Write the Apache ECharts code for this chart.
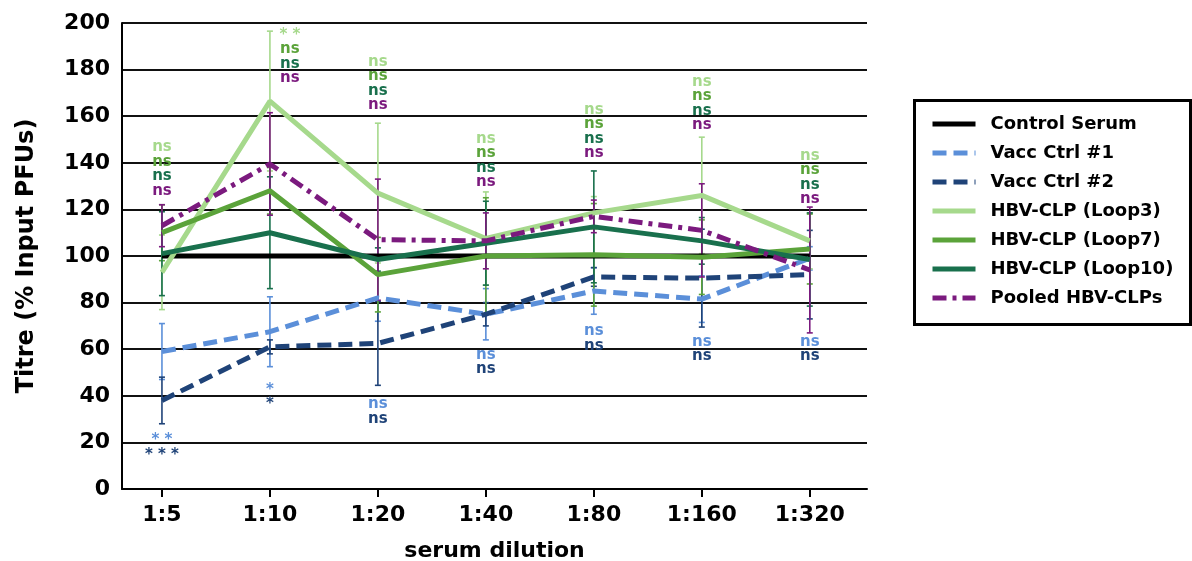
<!DOCTYPE html>
<html>
<head>
<meta charset="utf-8">
<script src="https://cdn.jsdelivr.net/npm/echarts@6/dist/echarts.min.js"></script>
<style>
  html, body { margin: 0; padding: 0; background: #fff; }
  #chart { width: 1192px; height: 561px; }
</style>
</head>
<body>
<div id="chart"></div>
<script>
const categories = ["1:5", "1:10", "1:20", "1:40", "1:80", "1:160", "1:320"];
const yTicks = [0, 20, 40, 60, 80, 100, 120, 140, 160, 180, 200];

const control = [100, 100, 100, 100, 100, 100, 100];
const vacc1 = [59, 67.5, 82, 75, 85, 81.5, 99];
const vacc2 = [38, 61, 62.5, 75, 91, 90.5, 92];
const loop3 = [93, 166.5, 127, 107.5, 118.5, 126, 106.5];
const loop7 = [110, 128, 92, 100, 100.5, 99.5, 103];
const loop10 = [101, 110, 98.5, 105.5, 112.5, 106.5, 98.5];
const pooled = [113, 139.5, 107, 106.5, 117, 111, 94];

// half-width of the error bars
const vacc1Err = [12, 15, 10, 11, 10, 10, 5];
const vacc2Err = [10, 3, 18, 5, 4, 21, 19];
const loop3Err = [16, 30, 30, 20, 7, 25, 12];
const loop7Err = [12, 10, 16, 25, 22, 16, 15];
const loop10Err = [18, 24, 5, 18, 24, 10, 20];
const pooledErr = [9, 22, 26, 12, 7, 20, 27];

// significance marks: upper stack = Loop3, Loop7, Loop10, Pooled; lower = Vacc #1, Vacc #2
const sigUpper = [
  ["ns", "ns", "ns", "ns"],
  ["* *", "ns", "ns", "ns"],
  ["ns", "ns", "ns", "ns"],
  ["ns", "ns", "ns", "ns"],
  ["ns", "ns", "ns", "ns"],
  ["ns", "ns", "ns", "ns"],
  ["ns", "ns", "ns", "ns"]
];
const sigLower = [
  ["* *", "* * *"],
  ["*", "*"],
  ["ns", "ns"],
  ["ns", "ns"],
  ["ns", "ns"],
  ["ns", "ns"],
  ["ns", "ns"]
];
const sigUpperAt = [124.7, 173, 161.3, 128.2, 140.7, 152.7, 120.9];
const sigLowerAt = [24.3, 45.8, 39.6, 60.8, 71, 66.5, 66.5];

const C = {
  control: "#000000",
  vacc1: "#5b8fd9",
  vacc2: "#1f4378",
  loop3: "#a6d98c",
  loop7: "#5ba33a",
  loop10: "#19704d",
  pooled: "#7b1a7e"
};
const FONT = "DejaVu Sans";

const pts = vals => vals.map((v, i) => [i, v]);

function lineSeries(name, vals, color, type) {
  return {
    name: name,
    type: "line",
    data: pts(vals),
    color: color,
    symbol: "none",
    z: 3,
    lineStyle: { width: 5, color: color, type: type || "solid" }
  };
}

function errSeries(vals, errs, color) {
  return {
    type: "custom",
    silent: true,
    z: 2,
    data: vals.map((v, i) => [i, v, errs[i]]),
    renderItem: (params, api) => {
      const x = api.value(0), y = api.value(1), e = api.value(2);
      const top = api.coord([x, y + e]);
      const bot = api.coord([x, y - e]);
      const st = { stroke: color, lineWidth: 1.6 };
      return {
        type: "group",
        children: [
          { type: "line", shape: { x1: top[0], y1: top[1], x2: bot[0], y2: bot[1] }, style: st },
          { type: "line", shape: { x1: top[0] - 3, y1: top[1], x2: top[0] + 3, y2: top[1] }, style: st },
          { type: "line", shape: { x1: bot[0] - 3, y1: bot[1], x2: bot[0] + 3, y2: bot[1] }, style: st }
        ]
      };
    }
  };
}

const rich = {};
[["a", C.loop3], ["b", C.loop7], ["c", C.loop10], ["d", C.pooled], ["e", C.vacc1], ["f", C.vacc2]].forEach(r => {
  rich[r[0]] = { color: r[1], fontFamily: FONT, fontWeight: "bold", fontSize: 15, lineHeight: 14.5 };
});

function sigSeries(at, texts, keys, position) {
  return {
    type: "scatter",
    silent: true,
    symbolSize: 1,
    itemStyle: { color: "rgba(0,0,0,0)" },
    z: 4,
    data: at.map((v, i) => ({
      value: [i, v],
      label: {
        show: true,
        opacity: 1,
        position: position,
        distance: 0,
        offset: i === 1 && position === "top" ? [20, 0] : [0, 0],
        formatter: texts[i].map((t, k) => "{" + keys[k] + "|" + t + "}").join("\n"),
        rich: rich
      }
    }))
  };
}

const option = {
  animation: false,
  backgroundColor: "#ffffff",
  grid: { left: 122, right: 325, top: 23, bottom: 72, outerBoundsMode: "none" },
  xAxis: {
    type: "value",
    min: -0.37,
    max: 6.53,
    name: "serum dilution",
    nameLocation: "middle",
    nameGap: 51,
    nameTextStyle: { fontFamily: FONT, fontWeight: "bold", fontSize: 22, color: "#000" },
    splitLine: { show: false },
    axisLine: { lineStyle: { color: "#000", width: 2 } },
    axisTick: {
      show: true,
      length: 8,
      inside: false,
      customValues: categories.map((c, i) => i),
      lineStyle: { color: "#000", width: 2 }
    },
    axisLabel: {
      customValues: categories.map((c, i) => i),
      formatter: v => categories[Math.round(v)],
      margin: 15,
      fontFamily: FONT,
      fontWeight: "bold",
      fontSize: 22,
      color: "#000"
    }
  },
  yAxis: {
    type: "value",
    min: yTicks[0],
    max: yTicks[yTicks.length - 1],
    interval: 20,
    name: "Titre (% Input PFUs)",
    nameLocation: "middle",
    nameRotate: 90,
    nameGap: 83,
    nameTextStyle: { fontFamily: FONT, fontWeight: "bold", fontSize: 24, color: "#000" },
    axisLine: { show: true, onZero: false, lineStyle: { color: "#000", width: 2 } },
    axisTick: { show: false },
    splitLine: { lineStyle: { color: "#111", width: 2 } },
    axisLabel: { margin: 12, fontFamily: FONT, fontWeight: "bold", fontSize: 22, color: "#000" }
  },
  legend: {
    orient: "vertical",
    left: 930,
    top: 115,
    padding: 0,
    itemWidth: 43,
    itemHeight: 14,
    itemGap: 11,
    selectedMode: false,
    itemStyle: { opacity: 0 },
    lineStyle: { width: 5 },
    textStyle: {
      fontFamily: FONT,
      fontWeight: "bold",
      fontSize: 18,
      lineHeight: 14,
      color: "#000",
      padding: [0, 0, 0, 10]
    },
    data: ["Control Serum", "Vacc Ctrl #1", "Vacc Ctrl #2", "HBV-CLP (Loop3)",
      "HBV-CLP (Loop7)", "HBV-CLP (Loop10)", "Pooled HBV-CLPs"]
  },
  graphic: [{
    type: "rect",
    left: 912,
    top: 98,
    shape: { width: 276, height: 224 },
    style: { fill: "none", stroke: "#000", lineWidth: 3 }
  }],
  series: [
    errSeries(vacc1, vacc1Err, C.vacc1),
    errSeries(vacc2, vacc2Err, C.vacc2),
    errSeries(loop3, loop3Err, C.loop3),
    errSeries(loop7, loop7Err, C.loop7),
    errSeries(loop10, loop10Err, C.loop10),
    errSeries(pooled, pooledErr, C.pooled),
    lineSeries("Control Serum", control, C.control),
    lineSeries("Vacc Ctrl #1", vacc1, C.vacc1, [14, 7]),
    lineSeries("Vacc Ctrl #2", vacc2, C.vacc2, [14, 7]),
    lineSeries("HBV-CLP (Loop3)", loop3, C.loop3),
    lineSeries("HBV-CLP (Loop7)", loop7, C.loop7),
    lineSeries("HBV-CLP (Loop10)", loop10, C.loop10),
    lineSeries("Pooled HBV-CLPs", pooled, C.pooled, [14, 6, 4, 6]),
    sigSeries(sigUpperAt, sigUpper, ["a", "b", "c", "d"], "top"),
    sigSeries(sigLowerAt, sigLower, ["e", "f"], "bottom")
  ]
};

const myChart = echarts.init(document.getElementById("chart"));
myChart.setOption(option);
</script>
</body>
</html>
